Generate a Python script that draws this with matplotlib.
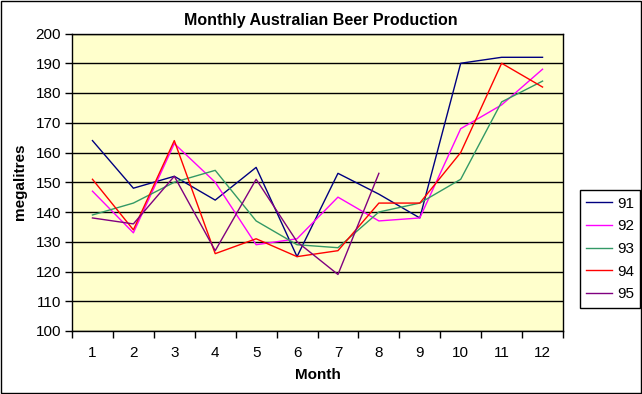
import numpy as np
import matplotlib
matplotlib.use('Agg')
import matplotlib.pyplot as plt
from matplotlib.patches import Rectangle

# Monthly beer production (megalitres), Jan 1991 - Aug 1995
months = np.arange(1, 13)
years = ['91', '92', '93', '94', '95']
beer_91 = [164, 148, 152, 144, 155, 125, 153, 146, 138, 190, 192, 192]
beer_92 = [147, 133, 163, 150, 129, 131, 145, 137, 138, 168, 176, 188]
beer_93 = [139, 143, 150, 154, 137, 129, 128, 140, 143, 151, 177, 184]
beer_94 = [151, 134, 164, 126, 131, 125, 127, 143, 143, 160, 190, 182]
beer_95 = [138, 136, 152, 127, 151, 130, 119, 153]
series = [beer_91, beer_92, beer_93, beer_94, beer_95]
colors = ['#000080', '#FF00FF', '#339966', '#FF0000', '#800080']

plt.rcParams['font.family'] = ['Liberation Sans', 'DejaVu Sans']

fig = plt.figure(figsize=(6.42, 3.94), dpi=100)
fig.patch.set_facecolor('white')
fig.patches.append(Rectangle((0.001, 0.002), 0.997, 0.996, transform=fig.transFigure,
                             fill=False, edgecolor='black', linewidth=1.0))

ax = fig.add_axes([72 / 642, 1 - 331 / 394, 491 / 642, 297.5 / 394])
ax.set_facecolor('#FFFFCC')

for vals, col, lab in zip(series, colors, years):
    ax.plot(months[:len(vals)], vals, color=col, linewidth=1.0, label=lab)

ax.set_xlim(0.5, 12.5)
ax.set_ylim(100, 200)
ax.set_yticks(np.arange(100, 201, 10))
ax.yaxis.grid(True, color='black', linewidth=1.0)
ax.set_axisbelow(True)

# category axis: ticks between categories, labels centred
ax.set_xticks(np.arange(0.5, 12.6, 1.0))
ax.set_xticklabels([])
ax.set_xticks(months, minor=True)
ax.set_xticklabels([str(m) for m in months], minor=True)
ax.tick_params(axis='x', which='major', direction='out', length=5, width=1, color='black')
ax.tick_params(axis='x', which='minor', length=0, pad=11, labelsize=11)
ax.tick_params(axis='y', direction='out', length=5, width=1, pad=3, labelsize=11)

for sp in ax.spines.values():
    sp.set_color('black')
    sp.set_linewidth(1.0)

ax.set_xlabel('Month', fontsize=11, fontweight='bold')
ax.xaxis.set_label_coords(0.5, -0.125)
ax.set_ylabel('megalitres', fontsize=11, fontweight='bold')
ax.yaxis.set_label_coords(-0.092, 0.5)

fig.text(0.5, 1 - 25 / 394, 'Monthly Australian Beer Production', ha='center', va='baseline',
         fontsize=11.5, fontweight='bold')

leg = ax.legend(loc='center left', bbox_to_anchor=(572 / 642, 1 - 249 / 394),
                bbox_transform=fig.transFigure, frameon=True, fancybox=False,
                edgecolor='black', framealpha=1, fontsize=11, handlelength=1.7,
                labelspacing=0.57, borderpad=0.4, handletextpad=0.35)
leg.get_frame().set_linewidth(1.0)

fig.savefig('out.png', dpi=100)
